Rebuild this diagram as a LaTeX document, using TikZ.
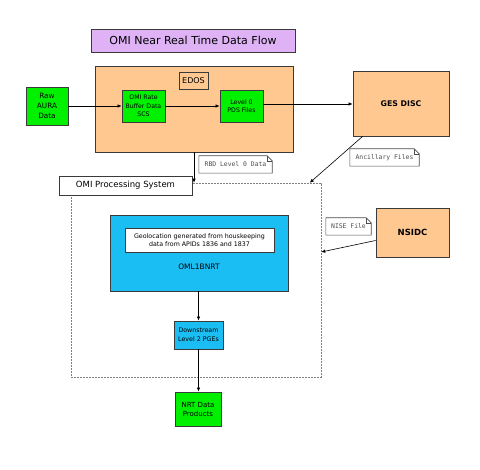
\documentclass[tikz,border=0pt]{standalone}
\usepackage{fontspec}
\setmainfont{DejaVu Sans}
\setmonofont{DejaVu Sans Mono}
\usetikzlibrary{arrows.meta}
\definecolor{peach}{HTML}{FFC891}
\definecolor{lgreen}{HTML}{00F000}
\definecolor{skyb}{HTML}{1BBEF2}
\definecolor{lav}{HTML}{DEB2F5}
\definecolor{edge}{HTML}{3A3A3A}
\tikzset{
  box/.style={draw=edge, line width=0.8pt, inner sep=0pt, align=center, font=\fontsize{6.5}{8}\selectfont},
  greenbox/.style={box, fill=lgreen},
  peachbox/.style={box, fill=peach},
  bluebox/.style={box, fill=skyb},
  notebox/.style={inner sep=0pt, font=\ttfamily\fontsize{6.4}{7}\selectfont, text=black!70},
  flow/.style={-{Latex[length=4pt,width=3.5pt]}, line width=0.6pt, black},
}
\begin{document}
\begin{tikzpicture}[x=1pt,y=-1pt]
\useasboundingbox (0,0) rectangle (480,470);
% title
\node[box, fill=lav, minimum width=204pt, minimum height=23pt, font=\fontsize{11}{13}\selectfont] (title) at (193,40.5) {OMI Near Real Time Data Flow};
% EDOS
\node[peachbox, minimum width=198pt, minimum height=86pt] (edos) at (194,109) {};
\node[box, fill=peach, minimum width=29pt, minimum height=17pt, font=\fontsize{8}{9}\selectfont] (edoslabel) at (193.5,80.5) {EDOS};
\node[greenbox, minimum width=42pt, minimum height=38pt, font=\fontsize{7.3}{10}\selectfont] (raw) at (47,106) {Raw\\AURA\\Data};
\node[greenbox, minimum width=43pt, minimum height=32pt, font=\fontsize{6.2}{8.3}\selectfont] (rbd) at (143.5,106) {OMI Rate\\Buffer Data\\SCS};
\node[greenbox, minimum width=43pt, minimum height=32pt, font=\fontsize{6.2}{8.3}\selectfont] (l0) at (241.5,106) {Level 0\\PDS Files};
\node[peachbox, minimum width=96pt, minimum height=65pt, font=\fontsize{7.8}{9}\selectfont\bfseries] (ges) at (401,103.5) {GES DISC};
\node[peachbox, minimum width=73pt, minimum height=49pt, font=\fontsize{8.5}{10}\selectfont\bfseries] (nsidc) at (412.5,232.5) {NSIDC};
% processing system
\node[draw=black!50, dash pattern=on 2pt off 1pt, line width=0.5pt, minimum width=250pt, minimum height=194pt, inner sep=0pt] (ops) at (196,280) {};
\node[box, fill=white, minimum width=133pt, minimum height=19pt, font=\fontsize{8.5}{10}\selectfont] (opslabel) at (125.5,185.5) {OMI Processing System};
\node[bluebox, minimum width=178pt, minimum height=76pt] (oml) at (199,253) {};
\node[box, fill=white, minimum width=149pt, minimum height=24pt, font=\fontsize{6.3}{8.5}\selectfont] (geo) at (199.5,240) {Geolocation generated from houskeeping\\data from APIDs 1836 and 1837};
\node[font=\fontsize{7.5}{9}\selectfont, inner sep=0pt] (omltext) at (199,267) {OML1BNRT};
\node[bluebox, minimum width=49pt, minimum height=28pt, font=\fontsize{6.3}{8.5}\selectfont] (down) at (198.5,335) {Downstream\\Level 2 PGEs};
\node[greenbox, minimum width=46pt, minimum height=34pt, font=\fontsize{7}{9}\selectfont] (nrt) at (198,409) {NRT Data\\Products};
% notes
\node[notebox, minimum width=73pt, minimum height=17pt] (rbdnote) at (235.5,164.5) {RBD Level 0 Data};
\node[notebox, minimum width=69pt, minimum height=17pt] (ancnote) at (384.5,157.5) {Ancillary Files};
\node[notebox, minimum width=45pt, minimum height=17pt] (nisenote) at (348.5,226.5) {NISE File};
\foreach \n in {rbdnote,ancnote,nisenote}{
  \draw[black!70, line width=0.6pt] (\n.south west) -- (\n.north west) -- ([xshift=-5pt]\n.north east) -- ([yshift=-5pt]\n.north east) -- (\n.south east) -- cycle;
  \draw[black!70, line width=0.5pt] ([xshift=-5pt]\n.north east) -- ([xshift=-5pt,yshift=-5pt]\n.north east) -- ([yshift=-5pt]\n.north east);
}
% connectors
\coordinate (opsin) at (edos.south |- ops.north);
\coordinate (gesout) at ([xshift=10pt]ges.south west);
\coordinate (ancin) at ([xshift=239pt]ops.north west);
\coordinate (nsout) at ([yshift=-8pt]nsidc.west);
\coordinate (nisein) at ([yshift=28pt]ops.east);
\draw[flow] (raw.east) -- (rbd.west);
\draw[flow] (rbd.east) -- (l0.west);
\draw[flow] ([yshift=2pt]l0.east) -- ([yshift=2pt]l0.east -| ges.west);
\draw[flow] (edos.south) -- (opsin);
\draw[flow] (gesout) -- (ancin);
\draw[flow] (nsout) -- (nisein);
\draw[flow] (oml.south -| down.north) -- (down.north);
\draw[flow] (down.south) -- (nrt.north -| down.south);
\end{tikzpicture}
\end{document}
